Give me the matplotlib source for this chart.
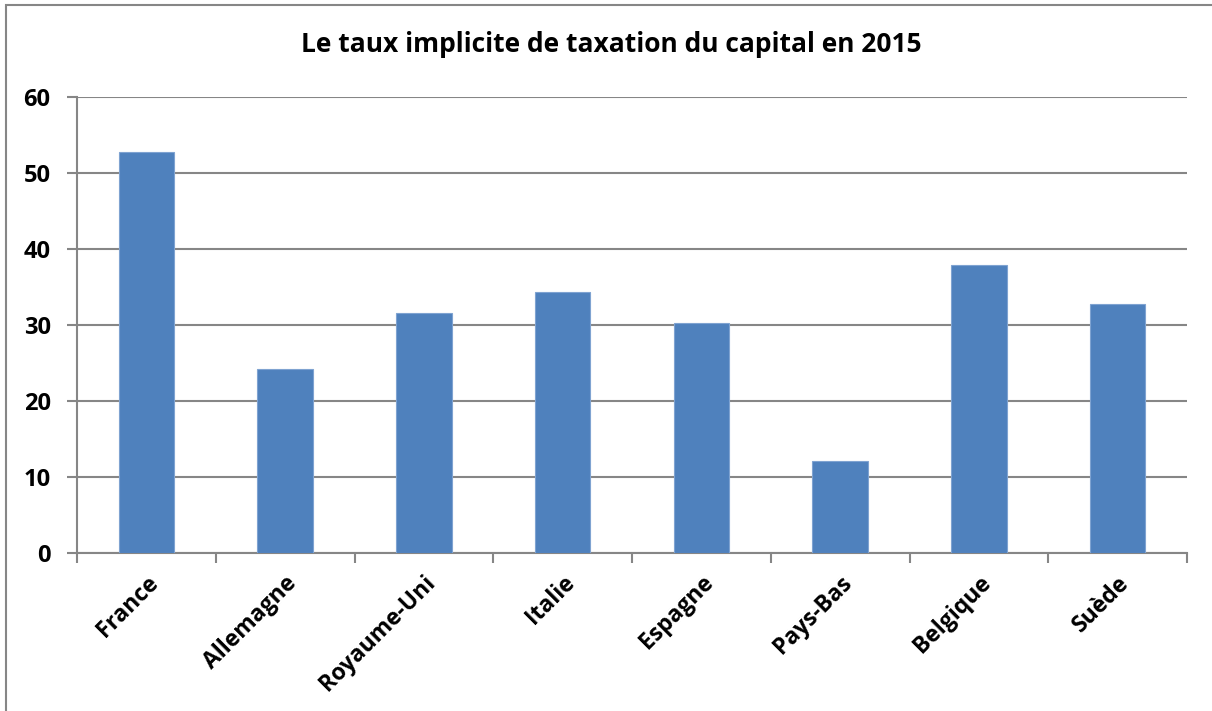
import matplotlib.pyplot as plt
from matplotlib.patches import Rectangle
import numpy as np

# Data
countries = ["France", "Allemagne", "Royaume-Uni", "Italie", "Espagne",
             "Pays-Bas", "Belgique", "Suède"]
rates = [52.7, 24.2, 31.6, 34.3, 30.3, 12.1, 37.9, 32.7]
yticks = [0, 10, 20, 30, 40, 50, 60]

title = "Le taux implicite de taxation du capital en 2015"
bar_color = "#4F81BD"
grid_color = "#868686"

plt.rcParams['font.family'] = ['Open Sans', 'DejaVu Sans']

fig = plt.figure(figsize=(12.12, 7.11), dpi=100)
ax = fig.add_axes([77 / 1212, 1 - 553 / 711, 1110 / 1212, 456 / 711])

x = np.arange(len(countries))
ax.bar(x, rates, width=0.4, color=bar_color, edgecolor="#7FA3D1",
       linewidth=0.8, zorder=3)

ax.set_xlim(-0.5, len(countries) - 0.5)
ax.set_ylim(0, 60)
ax.set_yticks(yticks)
ax.set_yticklabels([str(v) for v in yticks], fontsize=17, fontweight="bold")
ax.yaxis.grid(True, color=grid_color, linewidth=1.5, zorder=0)
ax.tick_params(axis="y", length=7, width=1.5, color=grid_color, pad=12)

# category labels at centres, ticks at boundaries
ax.set_xticks(x)
ax.set_xticklabels(countries, rotation=45, ha="right", va="top",
                   rotation_mode="anchor", fontsize=16.5, fontweight="bold")
ax.tick_params(axis="x", which="major", length=0, pad=13)
ax.set_xticks(np.arange(len(countries) + 1) - 0.5, minor=True)
ax.tick_params(axis="x", which="minor", length=7, width=1.5, color=grid_color)

for side in ["top", "right"]:
    ax.spines[side].set_visible(False)
for side in ["left", "bottom"]:
    ax.spines[side].set_color(grid_color)
    ax.spines[side].set_linewidth(1.5)

fig.text(611 / 1212, 1 - 45 / 711, title, ha="center", va="center",
         fontsize=19, fontweight="bold")

# outer chart border (right and bottom edges fall outside the image)
fig.patches.append(Rectangle((6 / 1212, -0.1), 1.2, 1 - 5 / 711 + 0.1,
                             transform=fig.transFigure, fill=False,
                             edgecolor=grid_color, linewidth=1.5))

fig.savefig("out.png", dpi=100)
